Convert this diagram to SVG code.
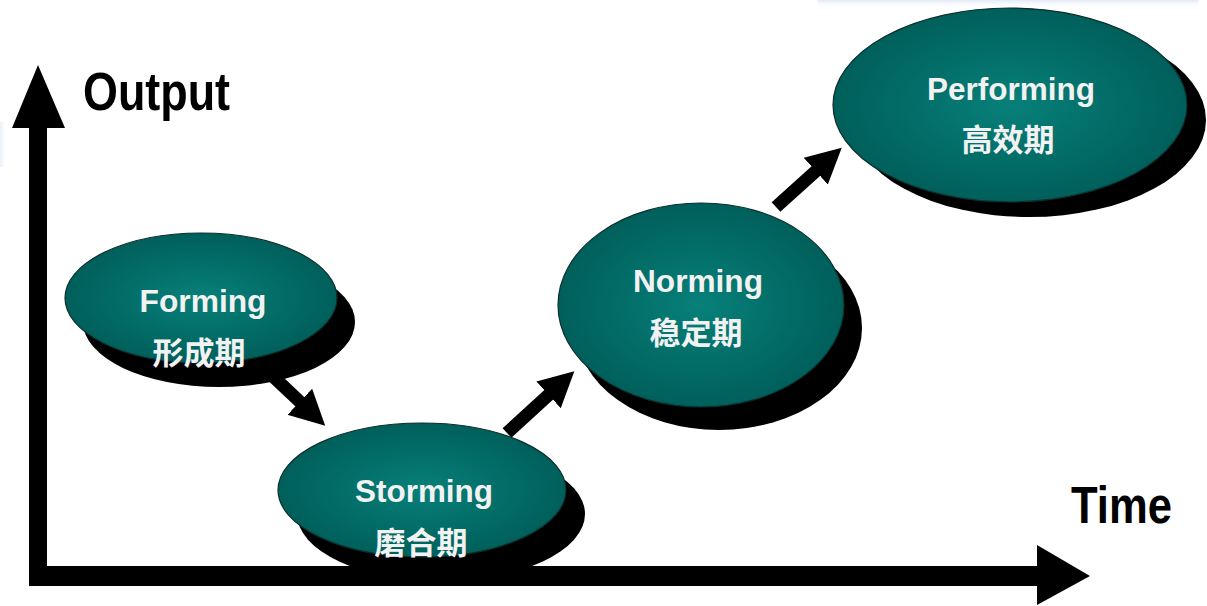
<svg xmlns="http://www.w3.org/2000/svg" width="1207" height="606" viewBox="0 0 1207 606">
  <style>
    .shadow { fill: #000000; }
    .blob { fill: url(#teal); stroke: #0d2e2c; stroke-width: 1.2; }
    .en { font-family: "Liberation Sans", Arial, sans-serif; font-weight: bold; font-size: 32px; fill: #f2f2f2; text-anchor: middle; }
    .zh { font-family: "Noto Sans CJK SC", "Noto Sans CJK TC", sans-serif; font-weight: bold; font-size: 31px; fill: #f2f2f2; text-anchor: middle; }
    .axislabel { font-family: "Liberation Sans", Arial, sans-serif; font-weight: bold; fill: #000000; }
    .conn { stroke: #000000; stroke-width: 13; fill: none; marker-end: url(#head); }
  </style>
  <defs>
    <radialGradient id="teal" cx="50%" cy="50%" r="50%">
      <stop offset="0%" stop-color="#078079"/>
      <stop offset="100%" stop-color="#005f5b"/>
    </radialGradient>
    <marker id="head" markerUnits="userSpaceOnUse" markerWidth="38" markerHeight="40" viewBox="0 -20 38 40" refX="1" refY="0" orient="auto">
      <path d="M0,-18 L35,0 L0,18 z" fill="#000000"/>
    </marker>
    <linearGradient id="wm" x1="0" y1="0" x2="0" y2="1">
      <stop offset="0%" stop-color="#cfdcef" stop-opacity="0.6"/>
      <stop offset="100%" stop-color="#ffffff" stop-opacity="0"/>
    </linearGradient>
    <linearGradient id="wm2" x1="0" y1="0" x2="1" y2="0">
      <stop offset="0%" stop-color="#d6e6f6" stop-opacity="0.6"/>
      <stop offset="100%" stop-color="#ffffff" stop-opacity="0"/>
    </linearGradient>
  </defs>

  <rect width="1207" height="606" fill="#ffffff"/>
  <!-- faint background watermark traces -->
  <rect x="818" y="0" width="380" height="8" fill="url(#wm)"/>
  <rect x="0" y="122" width="7" height="45" fill="url(#wm2)"/>

  <!-- axes -->
  <g id="axes">
    <polygon points="29,583 29,128 12,128 38,65 65,128 47,128 47,566 1037,566 1037,545 1090,576 1037,605 1037,586 29,586" fill="#000000"/>
    <text class="axislabel" x="83" y="110" font-size="54" textLength="147" lengthAdjust="spacingAndGlyphs">Output</text>
    <text class="axislabel" x="1071" y="523" font-size="52" textLength="101" lengthAdjust="spacingAndGlyphs">Time</text>
  </g>

  <!-- connectors -->
  <g id="connectors">
    <line class="conn" x1="262" y1="366" x2="300.5" y2="402.4"/>
    <line class="conn" x1="507" y1="433" x2="549.3" y2="394.2"/>
    <line class="conn" x1="776" y1="207" x2="816.5" y2="170.5"/>
  </g>

  <g id="forming">
    <ellipse class="shadow" cx="219" cy="322" rx="136" ry="65"/>
    <ellipse class="blob" cx="201" cy="298" rx="136" ry="65"/>
    <text class="en" x="203" y="312" textLength="127" lengthAdjust="spacingAndGlyphs">Forming</text>
    <text class="zh" x="199" y="364" textLength="93" lengthAdjust="spacingAndGlyphs">形成期</text>
  </g>

  <g id="storming">
    <ellipse class="shadow" cx="441" cy="514" rx="144" ry="67"/>
    <ellipse class="blob" cx="422" cy="490" rx="144" ry="67"/>
    <text class="en" x="424" y="502" textLength="138" lengthAdjust="spacingAndGlyphs">Storming</text>
    <text class="zh" x="421" y="554" textLength="93" lengthAdjust="spacingAndGlyphs">磨合期</text>
  </g>

  <g id="norming">
    <ellipse class="shadow" cx="719" cy="328" rx="143" ry="102"/>
    <ellipse class="blob" cx="701" cy="305" rx="143" ry="102"/>
    <text class="en" x="698" y="292" textLength="130" lengthAdjust="spacingAndGlyphs">Norming</text>
    <text class="zh" x="696" y="344" textLength="93" lengthAdjust="spacingAndGlyphs">稳定期</text>
  </g>

  <g id="performing">
    <ellipse class="shadow" cx="1029" cy="120" rx="177" ry="97"/>
    <ellipse class="blob" cx="1010" cy="105" rx="177" ry="97"/>
    <text class="en" x="1011" y="100" textLength="168" lengthAdjust="spacingAndGlyphs">Performing</text>
    <text class="zh" x="1008" y="151" textLength="93" lengthAdjust="spacingAndGlyphs">高效期</text>
  </g>
</svg>
